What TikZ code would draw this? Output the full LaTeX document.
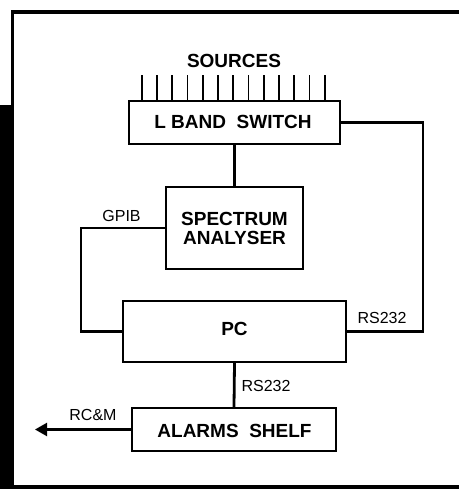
\documentclass[tikz,border=0pt]{standalone}
\usepackage{fontspec}
\setmainfont{Liberation Sans}
\usetikzlibrary{arrows.meta,calc}
\begin{document}
\begin{tikzpicture}[x=1pt,y=-1pt,
  blockbox/.style={draw=black,line width=2.4pt,fill=white,inner sep=0pt,
    font=\fontsize{19}{19}\selectfont\bfseries},
  boldlbl/.style={inner sep=0pt,anchor=base,font=\fontsize{19}{19}\selectfont\bfseries},
  smalllbl/.style={inner sep=0pt,anchor=base,font=\fontsize{16}{16}\selectfont},
  wire/.style={line width=2.2pt,line cap=rect},
  thickwire/.style={line width=2.8pt},
  tick/.style={line width=1.8pt}]
\useasboundingbox (0,0) rectangle (459,489);
% frame
\fill[white] (0,0) rectangle (459,489);
\fill[black] (11,10) rectangle (459,14);
\fill[black] (11,10) rectangle (14,105);
\fill[black] (0,105) rectangle (14,489);
\fill[black] (0,485) rectangle (459,489);
% blocks
\node[blockbox,minimum width=211pt,minimum height=43pt] (lbs) at (234.5,122.5) {};
\node[blockbox,minimum width=137pt,minimum height=82pt] (sa) at (234.5,228) {};
\node[blockbox,minimum width=223pt,minimum height=61pt] (pc) at (234.5,331.5) {};
\node[blockbox,minimum width=204pt,minimum height=43pt] (al) at (234,429.5) {};
% texts
\node[boldlbl] (srct) at (234,68) {SOURCES};
\node[boldlbl] (lbst) at (233,129) {L BAND\ \ SWITCH};
\node[boldlbl] (sat1) at (234.5,225) {SPECTRUM};
\node[boldlbl] (sat2) at (234.5,244) {ANALYSER};
\node[boldlbl] (pct) at (234.5,335) {PC};
\node[boldlbl] (alt) at (234.5,437) {ALARMS\ \ SHELF};
% source ticks
\foreach \i in {0,...,12}{
  \draw[tick] ($(lbs.north west)+(14+15.25*\i,0)$) -- ++(0,-25);
}
% connectors
\draw[thickwire] (lbs.south) -- (sa.north);
\draw[wire] (sa.west) -- ++(-84,0) |- (pc.west);
\draw[wire] (lbs.east) -- ++(82,0) |- (pc.east);
\draw[thickwire] (pc.south) -- (al.north);
\coordinate (rcm) at (35,429.5);
\draw[wire,line cap=butt,-{Triangle[length=12pt,width=13pt]}] (al.west) -- (rcm);
% small labels
\node[smalllbl] (gpib) at (121.5,221) {GPIB};
\node[smalllbl] (rs1) at (382,323) {RS232};
\node[smalllbl] (rs2) at (266,391) {RS232};
\node[smalllbl] (rcml) at (93,420) {RC\&M};
\end{tikzpicture}
\end{document}
